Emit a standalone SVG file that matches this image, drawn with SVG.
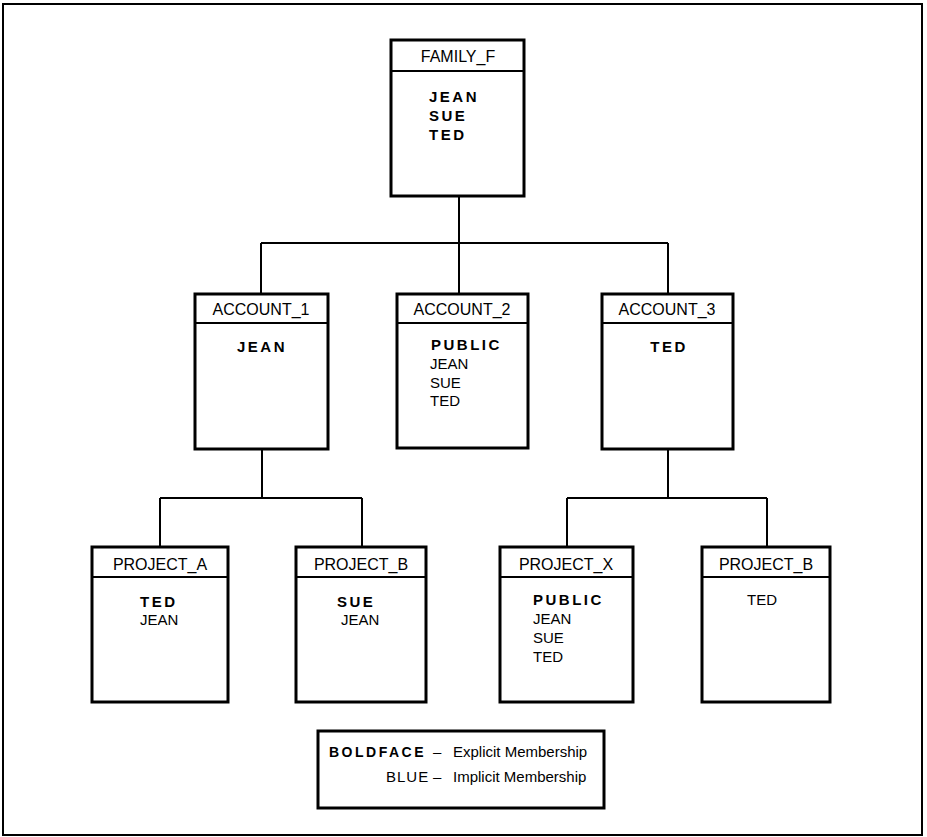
<svg xmlns="http://www.w3.org/2000/svg" width="927" height="837" viewBox="0 0 927 837">
<style>
.box{fill:#fff;stroke:#000;stroke-width:3}
.div{stroke:#000;stroke-width:2}
.hdr{font-family:"Liberation Sans",Arial,sans-serif;font-size:16px;text-anchor:middle;fill:#000}
.b{font-family:"Liberation Sans",Arial,sans-serif;font-size:15px;font-weight:bold;letter-spacing:2.5px;fill:#000}
.r{font-family:"Liberation Sans",Arial,sans-serif;font-size:15px;fill:#000}
.lg{font-family:"Liberation Sans",Arial,sans-serif;font-size:15px;fill:#000}
.conn{fill:none;stroke:#000;stroke-width:2}
</style>
<rect x="0" y="0" width="927" height="837" fill="#fff"/>
<rect x="3" y="4" width="919" height="831" fill="none" stroke="#000" stroke-width="2"/>
<g id="connectors" class="conn">
<path d="M459,196 V243 M261,243 H668 M261,243 V294 M459,243 V294 M668,243 V294"/>
<path d="M262,449 V498 M160,498 H362 M160,498 V547 M362,498 V547"/>
<path d="M668,449 V498 M567,498 H767 M567,498 V547 M767,498 V547"/>
</g>
<g id="FAMILY_F">
<rect class="box" x="391" y="40" width="133" height="156"/>
<line class="div" x1="391" y1="71" x2="524" y2="71"/>
<text class="hdr" x="458" y="62">FAMILY_F</text>
<text class="b" x="429" y="102">JEAN</text>
<text class="b" x="429" y="121">SUE</text>
<text class="b" x="429" y="140">TED</text>
</g>
<g id="ACCOUNT_1">
<rect class="box" x="195" y="294" width="133" height="155"/>
<line class="div" x1="195" y1="323" x2="328" y2="323"/>
<text class="hdr" x="261" y="315">ACCOUNT_1</text>
<text class="b" x="262" y="352" text-anchor="middle">JEAN</text>
</g>
<g id="ACCOUNT_2">
<rect class="box" x="397" y="294" width="131" height="154"/>
<line class="div" x1="397" y1="323" x2="528" y2="323"/>
<text class="hdr" x="462" y="315">ACCOUNT_2</text>
<text class="b" x="431" y="350">PUBLIC</text>
<text class="r" x="430" y="369">JEAN</text>
<text class="r" x="430" y="388">SUE</text>
<text class="r" x="430" y="406">TED</text>
</g>
<g id="ACCOUNT_3">
<rect class="box" x="602" y="294" width="131" height="155"/>
<line class="div" x1="602" y1="323" x2="733" y2="323"/>
<text class="hdr" x="667" y="315">ACCOUNT_3</text>
<text class="b" x="669" y="352" text-anchor="middle">TED</text>
</g>
<g id="PROJECT_A">
<rect class="box" x="92" y="547" width="136" height="155"/>
<line class="div" x1="92" y1="577" x2="228" y2="577"/>
<text class="hdr" x="160" y="570">PROJECT_A</text>
<text class="b" x="140" y="607">TED</text>
<text class="r" x="140" y="625">JEAN</text>
</g>
<g id="PROJECT_B_1">
<rect class="box" x="296" y="547" width="130" height="155"/>
<line class="div" x1="296" y1="577" x2="426" y2="577"/>
<text class="hdr" x="361" y="570">PROJECT_B</text>
<text class="b" x="337" y="607">SUE</text>
<text class="r" x="341" y="625">JEAN</text>
</g>
<g id="PROJECT_X">
<rect class="box" x="500" y="547" width="133" height="155"/>
<line class="div" x1="500" y1="577" x2="633" y2="577"/>
<text class="hdr" x="566" y="570">PROJECT_X</text>
<text class="b" x="533" y="605">PUBLIC</text>
<text class="r" x="533" y="624">JEAN</text>
<text class="r" x="533" y="643">SUE</text>
<text class="r" x="533" y="662">TED</text>
</g>
<g id="PROJECT_B_2">
<rect class="box" x="702" y="547" width="128" height="155"/>
<line class="div" x1="702" y1="577" x2="830" y2="577"/>
<text class="hdr" x="766" y="570">PROJECT_B</text>
<text class="r" x="747" y="605">TED</text>
</g>
<g id="legend">
<rect class="box" x="318" y="731" width="286" height="77"/>
<text class="b" x="329" y="757" style="font-size:14px">BOLDFACE</text>
<text class="lg" x="433" y="757">–</text>
<text class="lg" x="453" y="757">Explicit Membership</text>
<text class="r" x="386" y="782" style="letter-spacing:1px">BLUE</text>
<text class="lg" x="433" y="782">–</text>
<text class="lg" x="453" y="782">Implicit Membership</text>
</g>
</svg>
